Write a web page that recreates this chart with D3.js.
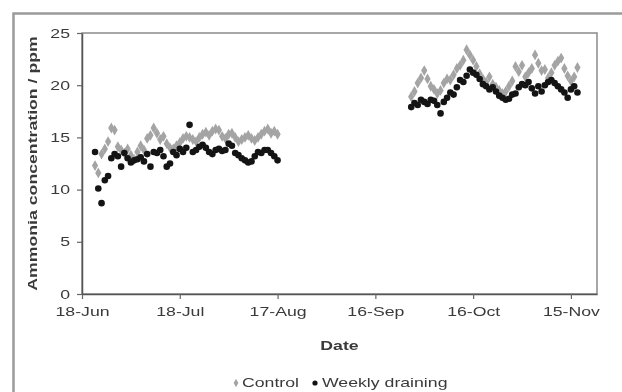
<!DOCTYPE html>
<html>
<head>
<meta charset="utf-8">
<script src="https://cdn.jsdelivr.net/npm/d3@7"></script>
<style>
  body { margin: 0; background: #fff; }
  svg { display: block; filter: blur(0.6px); }
  text { font-family: "Liberation Sans", Arial, sans-serif; fill: #3a3a3a; }
</style>
</head>
<body>
<svg id="svg"></svg>
<script>
// tick labels
var xTickLabels = ["18-Jun", "18-Jul", "17-Aug", "16-Sep", "16-Oct", "15-Nov"];
var yTicks = [0, 5, 10, 15, 20, 25];
var seriesNames = ["Control", "Weekly draining"];

// first run, one reading a day from 22-Jun
var run1Start = "22-Jun";
var control1 = [12.3, 11.6, 13.4, 13.9, 14.6, 15.9, 15.7, 14.1, 13.8, 13.5,
  13.9, 13.3, 12.9, 13.6, 14.2, 13.8, 14.9, 15.2, 15.9, 15.4,
  14.8, 15.1, 14.4, 14.0, 13.9, 14.2, 14.5, 14.9, 15.1, 15.0,
  14.8, 14.6, 15.0, 15.3, 15.5, 15.2, 15.6, 15.8, 15.7, 15.1,
  14.9, 15.3, 15.4, 15.0, 14.6, 14.8, 15.0, 15.2, 14.9, 14.7,
  15.0, 15.3, 15.6, 15.8, 15.4, 15.6, 15.3];
var weekly1 = [13.6, 10.1, 8.7, 10.9, 11.3, 13.0, 13.4, 13.2, 12.2, 13.5,
  13.0, 12.6, 12.8, 12.9, 13.1, 12.7, 13.4, 12.2, 13.6, 13.5,
  13.8, 13.2, 12.2, 12.5, 13.6, 13.3, 13.9, 13.6, 14.0, 16.2,
  13.6, 13.8, 14.1, 14.3, 14.0, 13.6, 13.4, 13.8, 13.9, 13.7,
  13.8, 14.4, 14.2, 13.5, 13.3, 13.0, 12.8, 12.6, 12.7, 13.2,
  13.6, 13.5, 13.8, 13.8, 13.5, 13.2, 12.8];

// second run, one reading a day from 27-Sep
var run2Start = "27-Sep";
var control2 = [18.9, 19.4, 20.2, 20.7, 21.4, 20.6, 19.9, 19.6, 19.2, 19.5,
  20.2, 20.6, 20.5, 21.0, 21.6, 21.9, 22.4, 23.4, 22.9, 22.4,
  21.8, 21.1, 20.6, 20.3, 20.8, 20.1, 19.8, 19.5, 19.2, 19.4,
  19.9, 20.4, 21.8, 21.3, 21.9, 20.8, 21.2, 21.6, 22.9, 22.1,
  21.4, 21.5, 20.7, 21.2, 21.9, 22.3, 22.6, 21.6, 20.9, 20.4,
  20.8, 21.7];
var weekly2 = [17.9, 18.3, 18.1, 18.6, 18.4, 18.2, 18.6, 18.5, 18.1, 17.3,
  18.4, 18.8, 19.3, 19.1, 19.8, 20.5, 20.3, 20.9, 21.5, 21.2,
  21.0, 20.6, 20.1, 19.9, 19.6, 19.8, 19.4, 19.0, 18.8, 18.6,
  18.7, 19.1, 19.2, 19.8, 20.1, 20.0, 20.3, 19.7, 19.2, 19.9,
  19.4, 20.0, 20.3, 20.5, 20.2, 19.9, 19.6, 19.3, 18.8, 19.6,
  19.9, 19.3];

var parseDay = function(s) { return d3.timeParse("%d-%b-%Y")(s + "-2007"); };

function toPoints(start, values) {
  var t0 = parseDay(start);
  return values.map(function(v, i) { return {date: d3.timeDay.offset(t0, i), value: v}; });
}

var controlPts = toPoints(run1Start, control1).concat(toPoints(run2Start, control2));
var weeklyPts = toPoints(run1Start, weekly1).concat(toPoints(run2Start, weekly2));

// the source text is set wide, so stretch each label along its line
var WIDE = 1.36;
function stretch(sel) {
  sel.each(function() {
    var len = this.getComputedTextLength();
    d3.select(this).attr("textLength", len * WIDE).attr("lengthAdjust", "spacingAndGlyphs");
  });
}

var W = 622, H = 392;
var margin = {top: 33, right: 25, bottom: 98, left: 82},
    width = W - margin.left - margin.right,
    height = H - margin.top - margin.bottom;

var svg = d3.select("#svg").attr("width", W).attr("height", H);

// outer frame, runs off the right and bottom of the picture
svg.append("rect")
    .attr("x", 13.5).attr("y", 13.5)
    .attr("width", W).attr("height", H)
    .attr("fill", "none")
    .attr("stroke", "#9a9a9a")
    .attr("stroke-width", 2.5);

var g = svg.append("g")
    .attr("transform", "translate(" + margin.left + "," + margin.top + ")");

var x = d3.scaleTime()
    .domain([parseDay("18-Jun"), parseDay("23-Nov")])
    .range([0, width]);

var y = d3.scaleLinear()
    .domain([0, 25])
    .range([height, 0]);

// plot box
g.append("rect")
    .attr("width", width).attr("height", height)
    .attr("fill", "none")
    .attr("stroke", "#8a8a8a")
    .attr("stroke-width", 1.5);

// add the x Axis
var xAxis = g.append("g")
    .attr("transform", "translate(0," + height + ")")
    .call(d3.axisBottom(x)
      .tickValues(xTickLabels.map(parseDay))
      .tickFormat(d3.timeFormat("%-d-%b"))
      .tickSize(5)
      .tickPadding(8)
      .tickSizeOuter(0));
xAxis.selectAll("text").attr("font-size", 13).call(stretch);

// add the y Axis
var yAxis = g.append("g")
    .call(d3.axisLeft(y)
      .tickValues(yTicks)
      .tickSize(5)
      .tickPadding(7)
      .tickSizeOuter(0));
yAxis.selectAll("text").attr("font-size", 13).call(stretch);

[xAxis, yAxis].forEach(function(a) {
  a.select(".domain").attr("stroke", "#555").attr("stroke-width", 1.5);
  a.selectAll(".tick line").attr("stroke", "#666").attr("stroke-width", 1.2);
  a.selectAll("text").attr("fill", "#444").attr("font-family", null);
});

// axis titles
svg.append("text")
    .attr("x", margin.left + width / 2)
    .attr("y", 350)
    .attr("text-anchor", "middle")
    .attr("font-size", 13)
    .attr("font-weight", "bold")
    .text("Date")
    .call(stretch);

svg.append("text")
    .attr("transform", "translate(37," + (margin.top + height / 2) + ") rotate(-90)")
    .attr("text-anchor", "middle")
    .attr("font-size", 13)
    .attr("font-weight", "bold")
    .text("Ammonia concentration / ppm")
    .call(stretch);

var diamond = d3.symbol().type(d3.symbolDiamond).size(34);

// Control, grey diamonds
g.append("g").selectAll("path")
    .data(controlPts)
    .join("path")
    .attr("d", diamond)
    .attr("transform", function(d) { return "translate(" + x(d.date) + "," + y(d.value) + ")"; })
    .attr("fill", "#a4a4a4");

// Weekly draining, black dots
g.append("g").selectAll("circle")
    .data(weeklyPts)
    .join("circle")
    .attr("cx", function(d) { return x(d.date); })
    .attr("cy", function(d) { return y(d.value); })
    .attr("r", 3.3)
    .attr("fill", "#141414");

// Handmade legend
var leg = svg.append("g").attr("transform", "translate(0,387)");
leg.append("path")
    .attr("d", d3.symbol().type(d3.symbolDiamond).size(20))
    .attr("transform", "translate(236,-4)")
    .attr("fill", "#a4a4a4");
leg.append("text").attr("x", 242).attr("font-size", 13).text(seriesNames[0]).call(stretch);
leg.append("circle").attr("cx", 315).attr("cy", -4).attr("r", 2.6).attr("fill", "#141414");
leg.append("text").attr("x", 322).attr("font-size", 13).text(seriesNames[1]).call(stretch);
</script>
</body>
</html>
